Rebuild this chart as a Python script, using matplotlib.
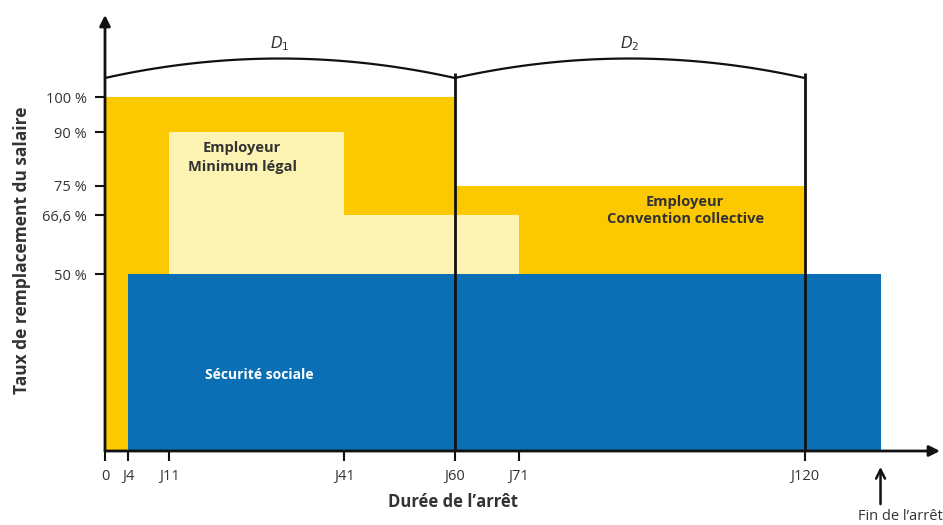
import numpy as np
import matplotlib
matplotlib.use("Agg")
from matplotlib import pyplot as plt

plt.rcParams['font.family'] = ['Open Sans', 'DejaVu Sans']

# durées (jours) et taux de remplacement (%)
jours_ticks = [0, 4, 11, 41, 60, 71, 120]
jours_labels = ['0', 'J4', 'J11', 'J41', 'J60', 'J71', 'J120']
taux_ticks = [50, 66.6, 75, 90, 100]
taux_labels = ['50 %', '66,6 %', '75 %', '90 %', '100 %']

# employeur (convention collective) : début, fin, taux
conv_debut = [0, 60]
conv_fin = [60, 120]
conv_taux = [100, 75]

# employeur (minimum légal)
legal_debut = [11, 41]
legal_fin = [41, 71]
legal_taux = [90, 66.6]

# sécurité sociale
secu_debut = 4
secu_fin = 133
secu_taux = 50

periodes = [(0, 60, '$D_1$'), (60, 120, '$D_2$')]

jaune = '#fcc800'
jaune_clair = '#fdf3b3'
bleu = '#0a6fb5'
gris = '#333333'

fig = plt.figure(figsize=(9.43, 5.25), dpi=100)
ax = fig.add_axes([105/943, 74/525, 835/943, 436/525])
ax.set_xlim(0, 143.2)
ax.set_ylim(0, 123.2)

ax.bar(conv_debut, conv_taux, width=np.array(conv_fin) - np.array(conv_debut),
       align='edge', color=jaune, linewidth=0, zorder=1)
ax.bar(legal_debut, legal_taux, width=np.array(legal_fin) - np.array(legal_debut),
       align='edge', color=jaune_clair, linewidth=0, zorder=2)
ax.bar(secu_debut, secu_taux, width=secu_fin - secu_debut,
       align='edge', color=bleu, linewidth=0, zorder=3)

# périodes D1 / D2 : traits verticaux et arcs
for a, b, nom in periodes:
    ax.plot([b, b], [0, 106.8], color='#111111', lw=2, zorder=5,
            solid_capstyle='butt')
    xs = np.linspace(a, b, 100)
    m = (a + b) / 2
    ys = 105.4 + 5.5 * (1 - ((xs - m) / (m - a)) ** 2)
    ax.plot(xs, ys, color='#111111', lw=1.6, zorder=5, clip_on=False)
    ax.text(m, 112.5, nom, ha='center', va='bottom',
            fontsize=11, color=gris, style='italic')

# axes avec flèches
ax.annotate('', xy=(0, 123.2), xytext=(0, 0),
            arrowprops=dict(arrowstyle='-|>', lw=2, color='#111111',
                            mutation_scale=16, shrinkA=0, shrinkB=0),
            annotation_clip=False, zorder=6)
ax.annotate('', xy=(143.2, 0), xytext=(0, 0),
            arrowprops=dict(arrowstyle='-|>', lw=2, color='#111111',
                            mutation_scale=16, shrinkA=0, shrinkB=0),
            annotation_clip=False, zorder=6)

for s in ax.spines.values():
    s.set_visible(False)

ax.set_xticks(jours_ticks)
ax.set_xticklabels(jours_labels)
ax.set_yticks(taux_ticks)
ax.set_yticklabels(taux_labels)
ax.tick_params(axis='both', length=7, width=1.5, color='#111111',
               labelcolor=gris, labelsize=10.5)
ax.tick_params(axis='y', pad=6)
ax.tick_params(axis='x', pad=6)

# textes
ax.text(23.5, 83, 'Employeur\nMinimum légal', ha='center', va='center',
        fontsize=10.5, fontweight='bold', color=gris, linespacing=1.5)
ax.text(99.5, 68, 'Employeur\nConvention collective', ha='center', va='center',
        fontsize=10.5, fontweight='bold', color=gris, linespacing=1.3)
ax.text(26.5, 21.5, 'Sécurité sociale', ha='center', va='center',
        fontsize=10, fontweight='bold', color='white')

fig.text(453/943, 1 - 502/525, 'Durée de l’arrêt', ha='center', va='center',
         fontsize=12, fontweight='bold', color=gris)
fig.text(22/943, 1 - 250/525, 'Taux de remplacement du salaire', ha='center',
         va='center', rotation=90, fontsize=12.5, fontweight='bold', color=gris)

# fin de l'arrêt
ax.annotate('', xy=(secu_fin, -4.5), xytext=(secu_fin, -15),
            arrowprops=dict(arrowstyle='->', lw=1.8, color='#111111',
                            mutation_scale=16, shrinkA=0, shrinkB=0),
            annotation_clip=False)
fig.text(900/943, 1 - 517/525, 'Fin de l’arrêt', ha='center', va='center',
         fontsize=10.5, color=gris)

fig.savefig('out.png', dpi=100)
